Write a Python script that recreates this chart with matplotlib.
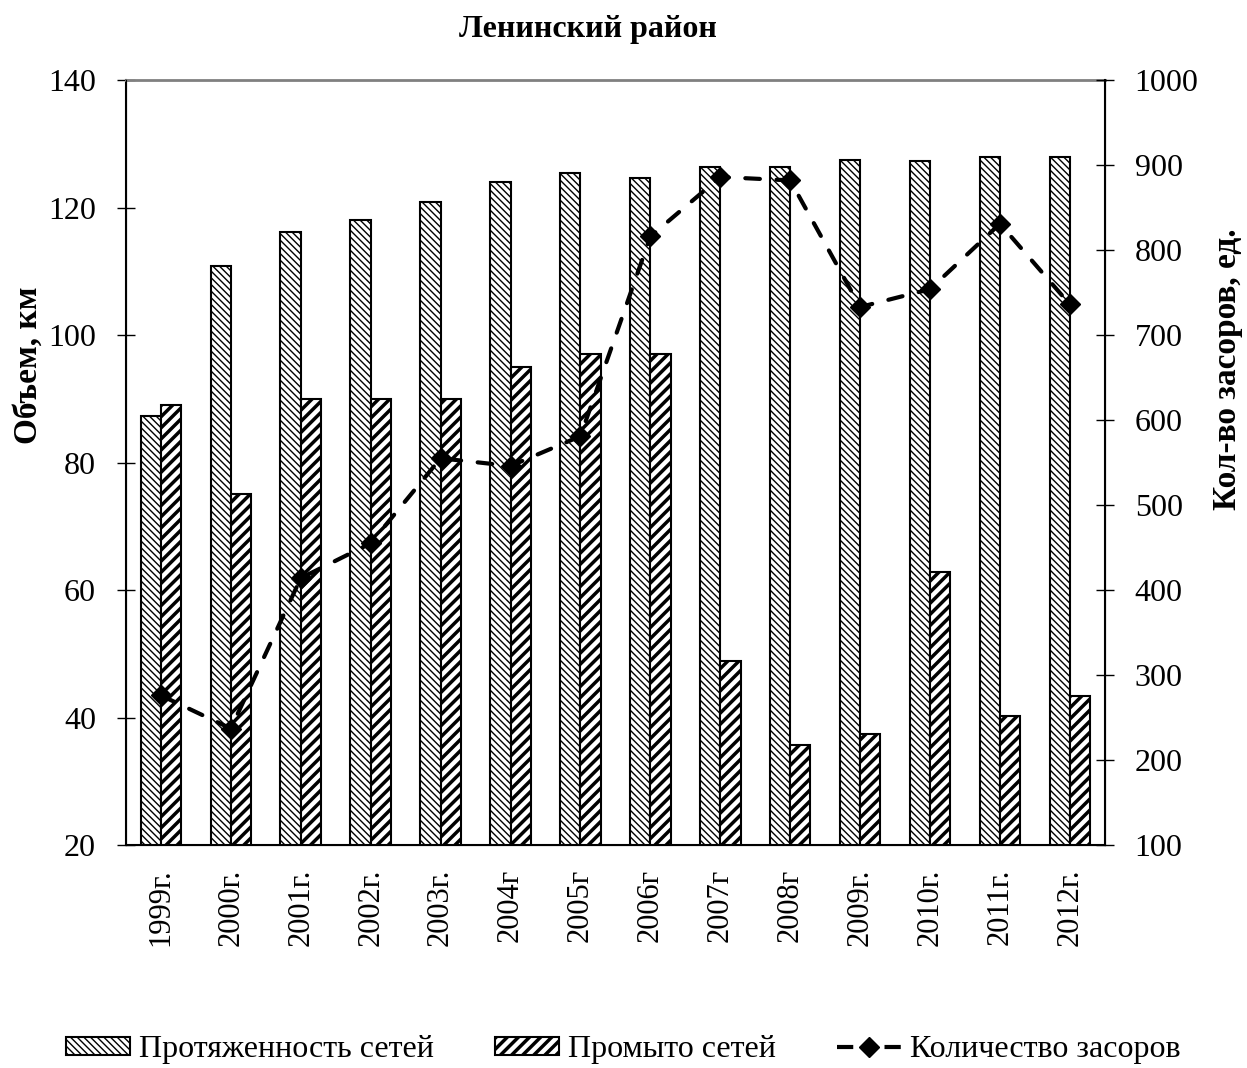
import numpy as np
import matplotlib.pyplot as plt
from matplotlib.lines import Line2D

years = ['1999г.', '2000г.', '2001г.', '2002г.', '2003г.', '2004г', '2005г',
         '2006г', '2007г', '2008г', '2009г.', '2010г.', '2011г.', '2012г.']
length_km = [87.3, 110.8, 116.2, 118.0, 120.9, 124.0, 125.4,
             124.6, 126.3, 126.4, 127.4, 127.3, 128.0, 128.0]
washed_km = [89.0, 75.0, 90.0, 90.0, 90.0, 95.0, 97.0,
             97.0, 48.8, 35.7, 37.4, 62.8, 40.2, 43.3]
blockages = [276, 237, 414, 455, 555, 546, 581,
             816, 886, 882, 733, 754, 831, 736]

plt.rcParams['font.family'] = ['Liberation Serif', 'DejaVu Serif']

fig = plt.figure(figsize=(12.47, 10.68), dpi=100)
ax = fig.add_axes([0.101, 0.2088, 0.785, 0.7162])
x = np.arange(len(years))
w = 0.29

with plt.rc_context({'hatch.linewidth': 1.0}):
    b1 = ax.bar(x - w / 2, length_km, w, color='white',
                edgecolor='black', linewidth=1.5, hatch='\\\\\\\\\\',
                label='Протяженность сетей', zorder=2)
with plt.rc_context({'hatch.linewidth': 2.5}):
    b2 = ax.bar(x + w / 2, washed_km, w, color='white',
                edgecolor='black', linewidth=1.5, hatch='///',
                label='Промыто сетей', zorder=2)

ax.set_ylim(20, 140)
ax.set_xlim(-0.5, len(years) - 0.5)
ax.set_yticks(np.arange(20, 141, 20))
ax.set_xticks(x)
ax.set_xticklabels(years, rotation=90, fontsize=22)
ax.tick_params(axis='y', labelsize=23, direction='inout', length=13, width=1, pad=15)
ax.tick_params(axis='x', length=0, pad=17)
ax.set_ylabel('Объем, км', fontsize=24, fontweight='bold')
ax.yaxis.set_label_coords(-0.100, 0.627)
ax.yaxis.label.set_verticalalignment('center')
ax.spines['top'].set_color('gray')
ax.spines['top'].set_linewidth(2)
ax.spines['left'].set_linewidth(1.5)
ax.spines['bottom'].set_linewidth(1.5)

ax2 = ax.twinx()
ln, = ax2.plot(x, blockages, color='black', linestyle=(0, (3.5, 4)), linewidth=3,
               dash_capstyle='round', marker='D', markersize=10,
               label='Количество засоров', zorder=3)
ax2.set_ylim(100, 1000)
ax2.set_yticks(np.arange(100, 1001, 100))
ax2.tick_params(axis='y', labelsize=23, direction='inout', length=13, width=1, pad=15)
ax2.set_ylabel('Кол-во засоров, ед.', fontsize=24, fontweight='bold')
ax2.yaxis.set_label_coords(1.125, 0.622)
ax2.yaxis.label.set_verticalalignment('center')
ax2.spines['top'].set_visible(False)
ax2.spines['right'].set_linewidth(1.5)

fig.text(0.4715, 1 - 29 / 1068, 'Ленинский район', fontsize=23, fontweight='bold',
         ha='center', va='center')

# legend proxy for the line: dash - diamond - dash
ln_proxy = Line2D([], [], color='black', linestyle=(0, (3.9, 7.5)), linewidth=3,
                  marker='D', markersize=10, label='Количество засоров')

with plt.rc_context({'hatch.linewidth': 2.5}):
    leg = fig.legend(handles=[b1, b2, ln_proxy], loc='center', ncol=3, frameon=False,
                     fontsize=23, bbox_to_anchor=(0.5, 1 - 1050 / 1068),
                     handlelength=2.0, handleheight=0.5, handletextpad=0.3,
                     columnspacing=1.9)
hl = leg.legend_handles
if hasattr(hl[0], 'set_hatch_linewidth'):
    hl[0].set_hatch_linewidth(1.0)
    hl[1].set_hatch_linewidth(2.5)

fig.savefig('out.png', dpi=100)
